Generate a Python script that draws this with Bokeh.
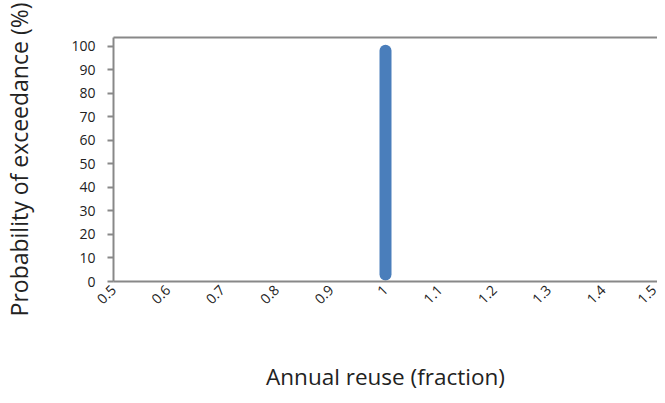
import math
from bokeh.plotting import figure
from bokeh.models import Range1d, FixedTicker, LinearAxis
from bokeh.embed import file_html
from bokeh.resources import INLINE

# data
annual_reuse = [1.0, 1.0, 1.0, 1.0, 1.0, 1.0, 1.0, 1.0, 1.0]
exceedance = [3.0, 14.0, 26.0, 38.0, 50.0, 62.0, 74.0, 86.0, 98.2]

x_ticks = [0.5, 0.6, 0.7, 0.8, 0.9, 1.0, 1.1, 1.2, 1.3, 1.4, 1.5]
x_tick_labels = ["0.5", "0.6", "0.7", "0.8", "0.9", "1", "1.1", "1.2", "1.3", "1.4", "1.5"]
y_ticks = [0, 10, 20, 30, 40, 50, 60, 70, 80, 90, 100]

FONT = "Open Sans"
AXIS_COLOR = "#888888"
TEXT_COLOR = "#222222"

p = figure(width=657, height=395, output_backend="svg", toolbar_location=None,
           x_range=Range1d(0.5, 1.5), y_range=Range1d(0, 103.8),
           min_border_left=108, min_border_right=0, min_border_top=37, min_border_bottom=114)
p.outline_line_color = None
p.grid.visible = False
p.background_fill_color = "white"
p.border_fill_color = "white"

p.line(annual_reuse, exceedance, line_color="#4a7ebb", line_width=12, line_cap="round", line_join="round")

xa = p.xaxis[0]
xa.ticker = FixedTicker(ticks=x_ticks)
xa.major_label_overrides = {t: l for t, l in zip(x_ticks, x_tick_labels)}
xa.major_label_orientation = math.pi / 4
xa.major_tick_out = 0
xa.major_tick_in = 0
xa.minor_tick_out = 0
xa.minor_tick_in = 0
xa.major_label_standoff = 6
xa.axis_label = "Annual reuse (fraction)"
xa.axis_label_standoff = 50
xa.axis_label_text_font_size = "22.5px"

ya = p.yaxis[0]
ya.ticker = FixedTicker(ticks=y_ticks)
ya.major_tick_out = 6
ya.major_tick_in = 0
ya.minor_tick_out = 0
ya.minor_tick_in = 0
ya.major_label_standoff = 12
ya.axis_label = "Probability of exceedance (%)"
ya.axis_label_standoff = 33
ya.axis_label_text_font_size = "23px"

for ax in (xa, ya):
    ax.axis_line_color = AXIS_COLOR
    ax.axis_line_width = 2
    ax.major_tick_line_color = AXIS_COLOR
    ax.major_tick_line_width = 2
    ax.major_label_text_font = FONT
    ax.major_label_text_font_size = "14px"
    ax.major_label_text_color = TEXT_COLOR
    ax.axis_label_text_font = FONT
    ax.axis_label_text_font_style = "normal"
    ax.axis_label_text_color = TEXT_COLOR

top = LinearAxis(ticker=FixedTicker(ticks=[]), axis_line_color=AXIS_COLOR, axis_line_width=2,
                 major_tick_out=0, major_tick_in=0, minor_tick_out=0, minor_tick_in=0,
                 major_label_text_font_size="0px")
p.add_layout(top, "above")

open("out.html", "w").write(file_html(p, INLINE))
